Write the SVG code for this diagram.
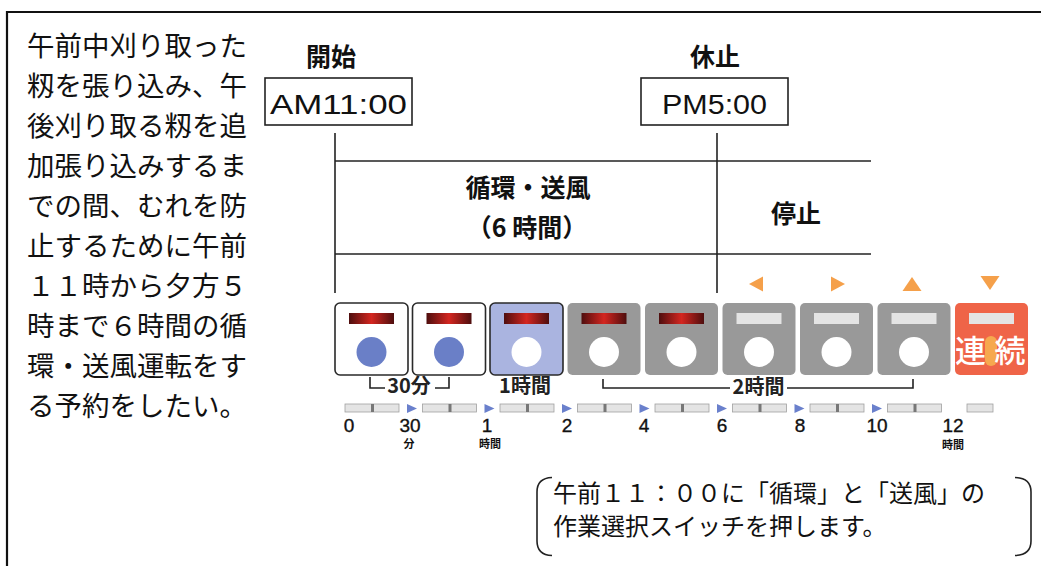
<svg xmlns="http://www.w3.org/2000/svg" width="1041" height="566" viewBox="0 0 1041 566">
<defs>
<linearGradient id="redbar" x1="0" x2="1" y1="0" y2="0">
<stop offset="0" stop-color="#4e0e0e"/>
<stop offset="0.5" stop-color="#d42620"/>
<stop offset="1" stop-color="#4e0e0e"/>
</linearGradient>
</defs>
<style>
.jp{font-family:"Noto Sans CJK JP","Noto Sans CJK SC",sans-serif;fill:#111}
.lat{font-family:"Liberation Sans",Arial,sans-serif;fill:#111}
.note{font-size:27.5px}
.b{font-weight:700}
.ln{stroke:#222;stroke-width:1.6;fill:none}
.box{fill:#fff;stroke:#222;stroke-width:1.6}
.bw{fill:#fff;stroke:#2a2a2a;stroke-width:1.6}
.bb{fill:#aab4e0;stroke:#2a2a2a;stroke-width:1.6}
.bg{fill:#999}
.bo{fill:#ef6448}
.red{fill:url(#redbar)}
.lite{fill:#e4e4e4}
.cb{fill:#6a7fc7}
.cw{fill:#fff}
.oa{fill:#f5a04a}
.ta{fill:#6a80cc}
.sb{fill:#e4e4e4;stroke:#a0a0a0;stroke-width:0.8}
.tk{fill:#777}
.num{font-size:19px;text-anchor:middle;stroke:#111;stroke-width:0.35}
.sub{font-size:11px;font-weight:700;text-anchor:middle}
.lab{font-size:20px;font-weight:700;text-anchor:middle;fill:#222}
.mid{text-anchor:middle}
</style>

<g id="frame">
<path d="M7 566 V12 H1041" fill="none" stroke="#111" stroke-width="2.2"/>
</g>

<g id="note-left" class="jp note">
<text x="27" y="55.5">午前中刈り取った</text>
<text x="27" y="95.6">籾を張り込み、午</text>
<text x="27" y="135.7">後刈り取る籾を追</text>
<text x="27" y="175.8">加張り込みするま</text>
<text x="27" y="215.9">での間、むれを防</text>
<text x="27" y="256">止するために午前</text>
<text x="27" y="296.1">１１時から夕方５</text>
<text x="27" y="336.2">時まで６時間の循</text>
<text x="27" y="376.3">環・送風運転をす</text>
<text x="27" y="416.4">る予約をしたい。</text>
</g>

<g id="start">
<text class="jp b mid" x="331" y="66" font-size="25">開始</text>
<rect class="box" x="265" y="78" width="147" height="47"/>
<text class="lat" x="270" y="114" font-size="28" textLength="137" lengthAdjust="spacingAndGlyphs">AM11:00</text>
</g>

<g id="pause">
<text class="jp b mid" x="715" y="66" font-size="25">休止</text>
<rect class="box" x="641" y="78" width="147" height="47"/>
<text class="lat" x="662" y="114" font-size="28" textLength="105" lengthAdjust="spacingAndGlyphs">PM5:00</text>
</g>

<g id="connectors" class="ln">
<path d="M335 133 V293"/>
<path d="M717 133 V293"/>
<path d="M335 161 H871"/>
<path d="M335 254 H871"/>
<path d="M370 377 V388 H385"/>
<path d="M435 388 H449 V377"/>
<path d="M603 379 V388 H730"/>
<path d="M787 388 H913 V379"/>
</g>

<g id="phase-run">
<text class="jp b mid" x="528" y="197" font-size="25">循環・送風</text>
<text class="jp b mid" x="527" y="236.5" font-size="25">（6 時間）</text>
</g>

<g id="phase-stop">
<text class="jp b mid" x="796" y="222.5" font-size="25">停止</text>
</g>

<g id="arrows-orange">
<polygon class="oa" points="749,284 763,276.5 763,291.5"/>
<polygon class="oa" points="831,276.5 845,284 831,291.5"/>
<polygon class="oa" points="902.5,291 921.5,291 912,277"/>
<polygon class="oa" points="980.5,276 999.5,276 990,290"/>
</g>

<g id="btn1">
<rect class="bw" x="335" y="303" width="73" height="72" rx="5"/>
<rect class="red" x="349" y="313" width="45" height="11"/>
<circle class="cb" cx="371.5" cy="352" r="15"/>
</g>
<g id="btn2">
<rect class="bw" x="412.5" y="303" width="73" height="72" rx="5"/>
<rect class="red" x="426.5" y="313" width="45" height="11"/>
<circle class="cb" cx="449" cy="352" r="15"/>
</g>
<g id="btn3">
<rect class="bb" x="490" y="303" width="73" height="72" rx="5"/>
<rect class="red" x="504" y="313" width="45" height="11"/>
<circle class="cw" cx="526.5" cy="352" r="15"/>
</g>
<g id="btn4">
<rect class="bg" x="567.5" y="303" width="73" height="72" rx="5"/>
<rect class="red" x="581.5" y="313" width="45" height="11"/>
<circle class="cw" cx="604" cy="352" r="15"/>
</g>
<g id="btn5">
<rect class="bg" x="645" y="303" width="73" height="72" rx="5"/>
<rect class="red" x="659" y="313" width="45" height="11"/>
<circle class="cw" cx="681.5" cy="352" r="15"/>
</g>
<g id="btn6">
<rect class="bg" x="722.5" y="303" width="73" height="72" rx="5"/>
<rect class="lite" x="736.5" y="313" width="45" height="11"/>
<circle class="cw" cx="759" cy="352" r="15"/>
</g>
<g id="btn7">
<rect class="bg" x="800" y="303" width="73" height="72" rx="5"/>
<rect class="lite" x="814" y="313" width="45" height="11"/>
<circle class="cw" cx="836.5" cy="352" r="15"/>
</g>
<g id="btn8">
<rect class="bg" x="877.5" y="303" width="73" height="72" rx="5"/>
<rect class="lite" x="891.5" y="313" width="45" height="11"/>
<circle class="cw" cx="914" cy="352" r="15"/>
</g>
<g id="btn9">
<rect class="bo" x="955" y="303" width="73" height="72" rx="5"/>
<rect class="lite" x="969" y="313" width="45" height="11"/>
<rect x="985" y="336" width="12" height="30" rx="6" fill="#f6a84e"/>
<text class="jp mid" x="970.5" y="362" font-size="31" font-weight="500" style="fill:#fff">連</text>
<text class="jp mid" x="1010" y="362" font-size="31" font-weight="500" style="fill:#fff">続</text>
</g>

<g id="labels" class="jp">
<text class="lab" x="409" y="393">30分</text>
<text class="lab" x="525" y="393">1時間</text>
<text class="lab" x="758.5" y="394">2時間</text>
</g>

<g id="scale">
<rect class="sb" x="345" y="404" width="54" height="8"/><rect class="tk" x="371" y="404" width="3" height="8"/>
<rect class="sb" x="422.5" y="404" width="54" height="8"/><rect class="tk" x="448.5" y="404" width="3" height="8"/>
<rect class="sb" x="500" y="404" width="54" height="8"/><rect class="tk" x="526" y="404" width="3" height="8"/>
<rect class="sb" x="577.5" y="404" width="54" height="8"/><rect class="tk" x="603.5" y="404" width="3" height="8"/>
<rect class="sb" x="655" y="404" width="54" height="8"/><rect class="tk" x="681" y="404" width="3" height="8"/>
<rect class="sb" x="732.5" y="404" width="54" height="8"/><rect class="tk" x="758.5" y="404" width="3" height="8"/>
<rect class="sb" x="810" y="404" width="54" height="8"/><rect class="tk" x="836" y="404" width="3" height="8"/>
<rect class="sb" x="887.5" y="404" width="54" height="8"/><rect class="tk" x="913.5" y="404" width="3" height="8"/>
<rect class="sb" x="967" y="404" width="26" height="8"/>
<polygon class="ta" points="407,404 417,408.5 407,413"/>
<polygon class="ta" points="484.5,404 494.5,408.5 484.5,413"/>
<polygon class="ta" points="562,404 572,408.5 562,413"/>
<polygon class="ta" points="639.5,404 649.5,408.5 639.5,413"/>
<polygon class="ta" points="717,404 727,408.5 717,413"/>
<polygon class="ta" points="794.5,404 804.5,408.5 794.5,413"/>
<polygon class="ta" points="872,404 882,408.5 872,413"/>
<g class="lat num">
<text x="349" y="432">0</text>
<text x="410" y="432">30</text>
<text x="487" y="432">1</text>
<text x="567" y="432">2</text>
<text x="644" y="432">4</text>
<text x="722" y="432">6</text>
<text x="800" y="432">8</text>
<text x="877" y="432">10</text>
<text x="953" y="432">12</text>
</g>
<g class="jp sub">
<text x="409" y="448">分</text>
<text x="490" y="448">時間</text>
<text x="953" y="449">時間</text>
</g>
</g>

<g id="callout">
<path class="ln" d="M552 477.5 Q537 478 537 492 V541 Q537 555 552 555.5"/>
<path class="ln" d="M1015 477.5 Q1031 478 1031 492 V541 Q1031 555 1015 555.5"/>
<text class="jp" x="553" y="501.5" font-size="24">午前１１：００に「循環」と「送風」の</text>
<text class="jp" x="553" y="535" font-size="24">作業選択スイッチを押します。</text>
</g>
</svg>
